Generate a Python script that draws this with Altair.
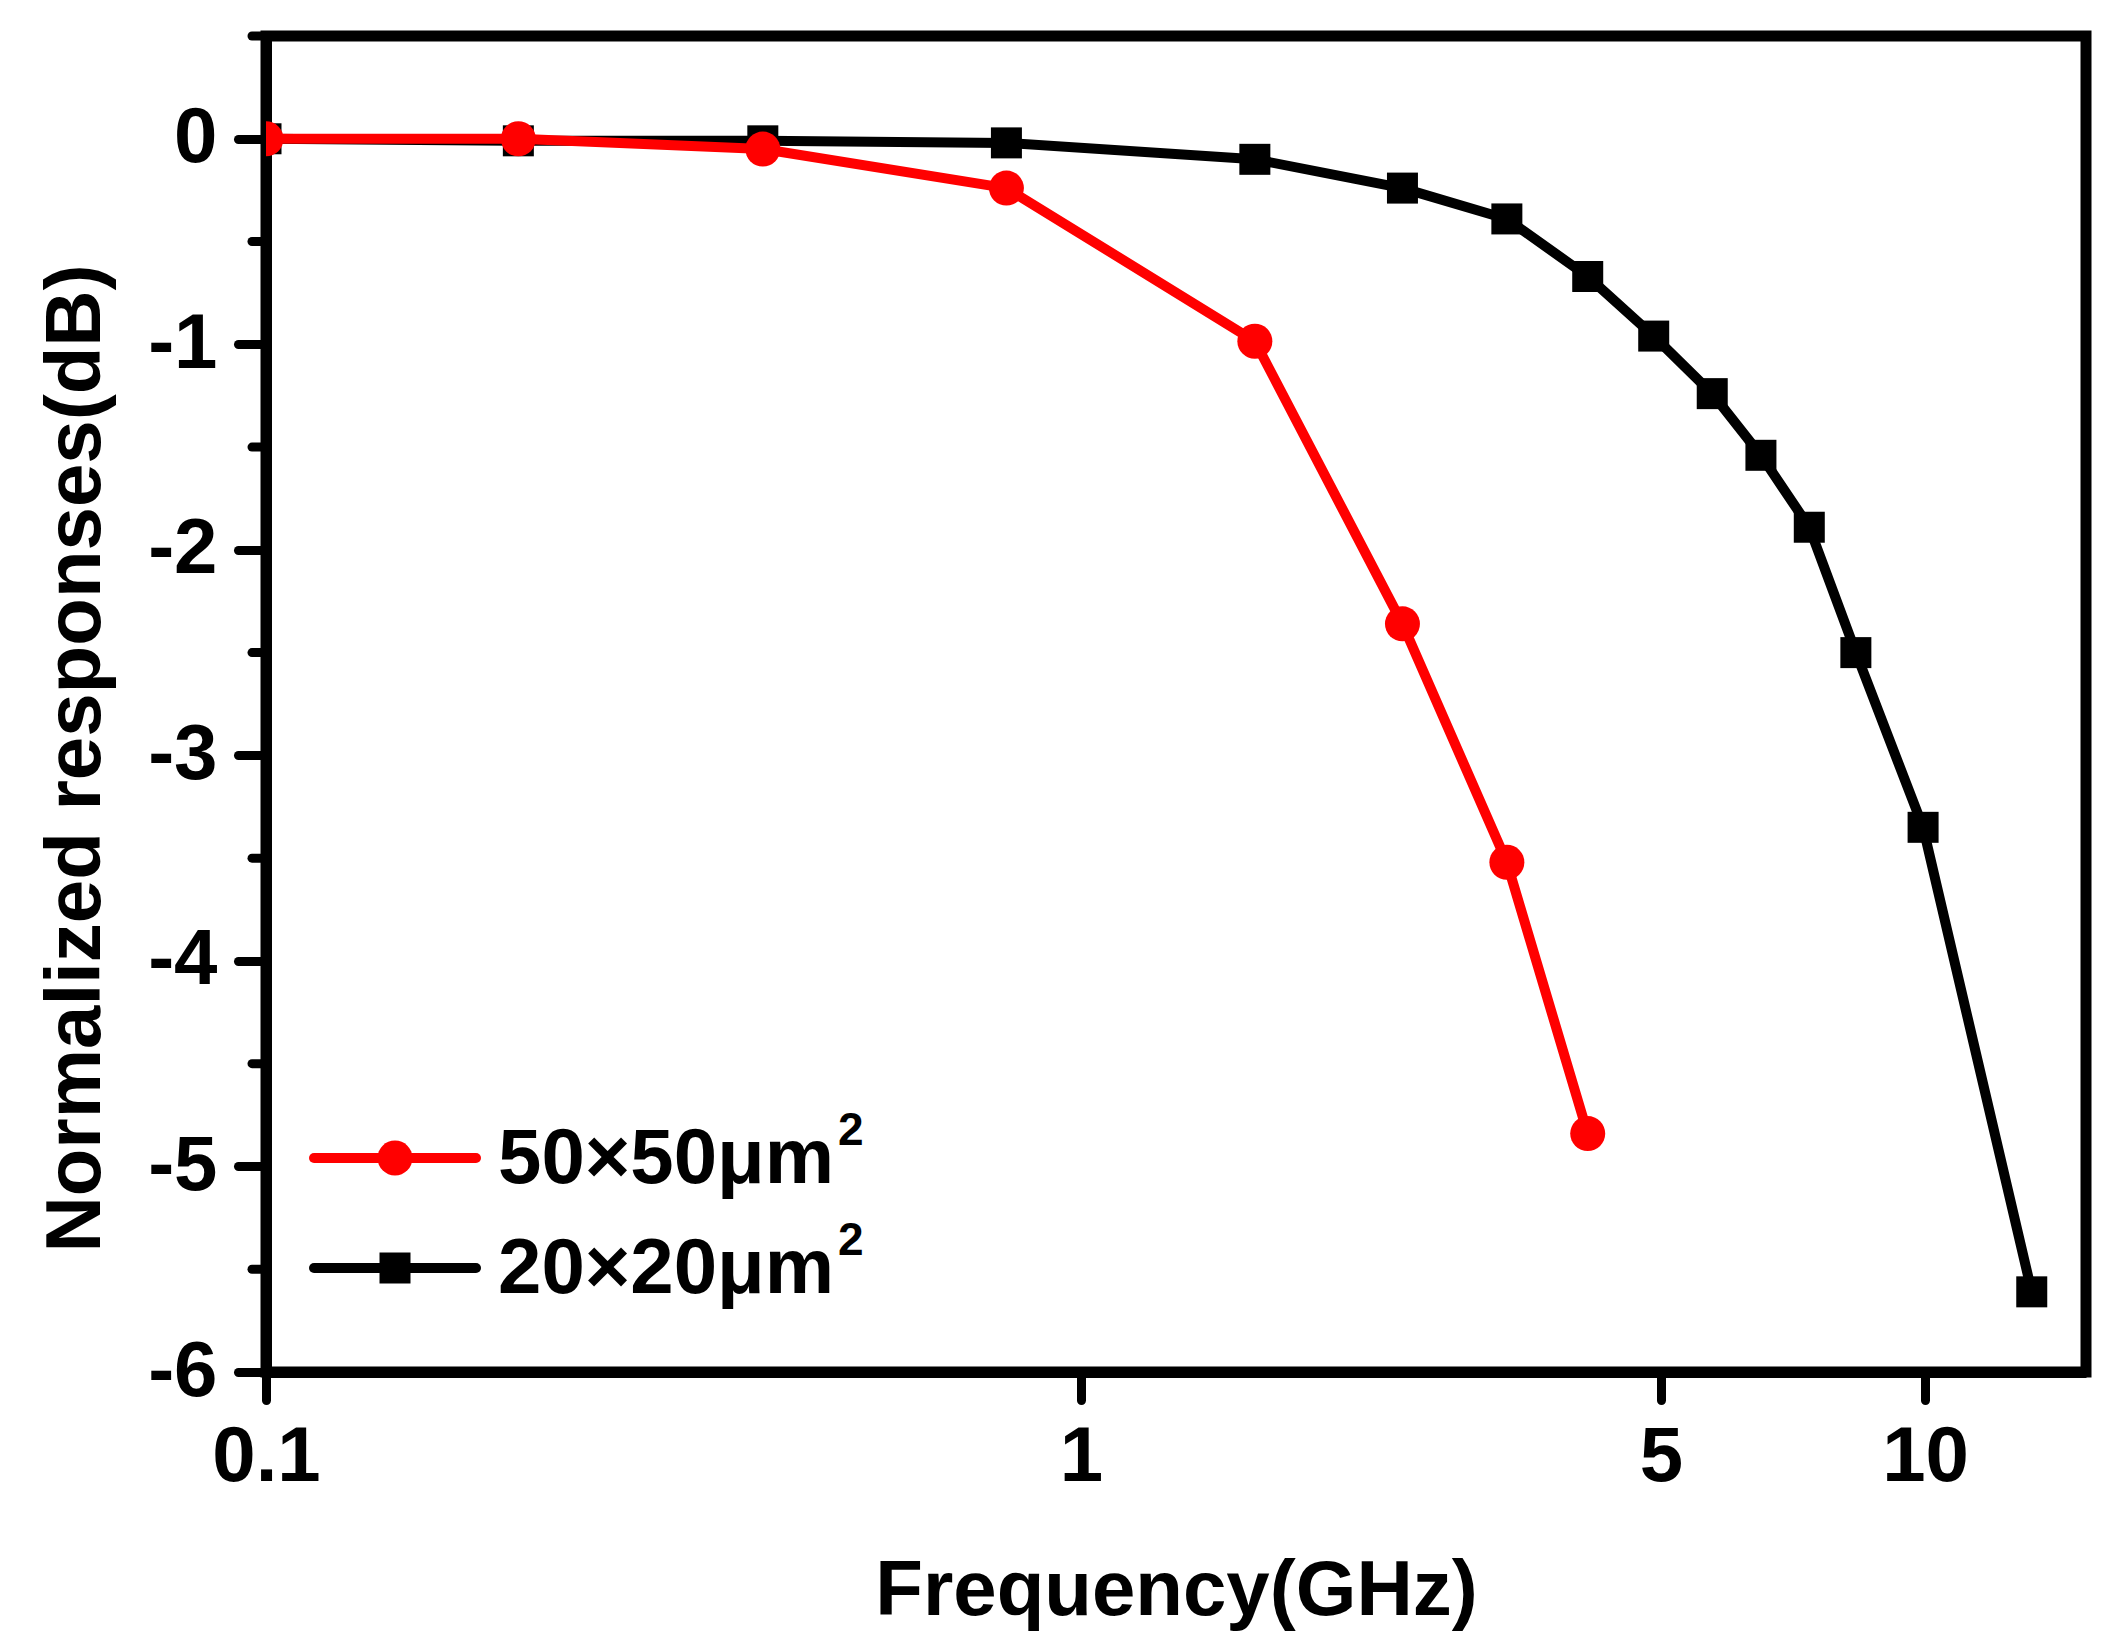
import altair as alt
import pandas as pd

# ---- data ----
freq_50 = [0.1, 0.204, 0.407, 0.81, 1.62, 2.44, 3.26, 4.08]
resp_50 = [0.0, 0.0, -0.05, -0.24, -0.985, -2.36, -3.52, -4.84]

freq_20 = [0.1, 0.204, 0.407, 0.81, 1.62, 2.44, 3.26, 4.08, 4.90, 5.72, 6.50, 7.38, 8.34, 9.95, 13.2]
resp_20 = [0.0, -0.01, -0.01, -0.02, -0.10, -0.24, -0.39, -0.67, -0.96, -1.24, -1.54, -1.89, -2.50, -3.35, -5.61]

series_main = ["50×50μm", "20×20μm"]   # followed by superscript "2"
series_sup = ["2", "2"]
x_ticks = [0.1, 1, 5, 10]
y_ticks = [-6, -5, -4, -3, -2, -1, 0]
y_minor = [-5.5, -4.5, -3.5, -2.5, -1.5, -0.5, 0.5]

df50 = pd.DataFrame({"f": freq_50, "r": resp_50})
df20 = pd.DataFrame({"f": freq_20, "r": resp_20})
dfminor = pd.DataFrame({"r": y_minor})

W, H = 1820, 1336
FONT = "Liberation Sans, Arial, sans-serif"
RED = "#ff0000"
BLACK = "#000000"
LW = 10

xscale = alt.Scale(type="log", domain=[0.1, 1, 5, 10, 15.2],
                   range=[0, 815, 1395, 1659, 1820], nice=False)
yscale = alt.Scale(domain=[-6, 0.5], nice=False, zero=False)

xenc = alt.X("f:Q", scale=xscale,
             axis=alt.Axis(values=x_ticks, title="Frequency(GHz)",
                           labelExpr="toString(datum.value)",
                           labelPadding=18, titleY=242,
                           titleBaseline="alphabetic"))
yenc = alt.Y("r:Q", scale=yscale,
             axis=alt.Axis(values=y_ticks, title="Normalized responses(dB)",
                           labelExpr="toString(datum.value)",
                           labelPadding=21, titleX=-167, titleY=722,
                           titleAngle=270, titleAlign="center",
                           titleBaseline="alphabetic"))

line20 = alt.Chart(df20).mark_line(color=BLACK, strokeWidth=LW, clip=True,
                                   strokeJoin="round").encode(x=xenc, y=yenc)
pts20 = alt.Chart(df20).mark_point(shape="square", filled=True, size=961,
                                   color=BLACK, opacity=1, clip=True).encode(x=xenc, y=yenc)
line50 = alt.Chart(df50).mark_line(color=RED, strokeWidth=LW, clip=True,
                                   strokeJoin="round").encode(x=xenc, y=yenc)
pts50 = alt.Chart(df50).mark_point(shape="circle", filled=True, size=1225,
                                   color=RED, opacity=1, clip=True).encode(x=xenc, y=yenc)

minor = alt.Chart(dfminor).mark_rule(color=BLACK, strokeWidth=9,
                                     strokeCap="round").encode(
    x=alt.value(-14), x2=alt.value(0), y=yenc)

# ---- legend (manual, line + marker + label) ----
def legend_row(i, color, shape, size, y_line, y_text, y_sup):
    d = pd.DataFrame({"lab": [series_main[i]], "sup": [series_sup[i]]})
    base = alt.Chart(d)
    rule = base.mark_rule(color=color, strokeWidth=LW, strokeCap="round").encode(
        x=alt.value(48), x2=alt.value(210), y=alt.value(y_line))
    pt = base.mark_point(shape=shape, filled=True, size=size, color=color,
                         opacity=1).encode(x=alt.value(129), y=alt.value(y_line))
    txt = base.mark_text(font=FONT, fontSize=78, fontWeight="bold", color=BLACK,
                         align="left", baseline="alphabetic").encode(
        x=alt.value(232), y=alt.value(y_text), text="lab:N")
    sup = base.mark_text(font=FONT, fontSize=46, fontWeight="bold", color=BLACK,
                         align="left", baseline="alphabetic").encode(
        x=alt.value(572), y=alt.value(y_sup), text="sup:N")
    return [rule, pt, txt, sup]

leg = legend_row(0, RED, "circle", 1225, 1122, 1147, 1109) + \
      legend_row(1, BLACK, "square", 961, 1232, 1257, 1219)

chart = alt.layer(minor, line20, pts20, line50, pts50, *leg).properties(
    width=W, height=H,
    autosize=alt.AutoSizeParams(type="none"),
    padding={"left": 258, "top": 28, "right": 20, "bottom": 262},
    background="white",
).configure_view(
    stroke=BLACK, strokeWidth=11
).configure_axis(
    domainColor=BLACK, domainWidth=11,
    tickColor=BLACK, tickWidth=9, tickSize=28, tickCap="round",
    labelFont=FONT, labelFontSize=78, labelFontWeight="bold", labelColor=BLACK,
    titleFont=FONT, titleFontSize=78, titleFontWeight="bold", titleColor=BLACK,
    labelFlush=False, labelOverlap=False, labelBound=False,
    grid=False, zindex=1,
)

chart.save("out.html", embed_options={"renderer": "svg", "actions": False})
